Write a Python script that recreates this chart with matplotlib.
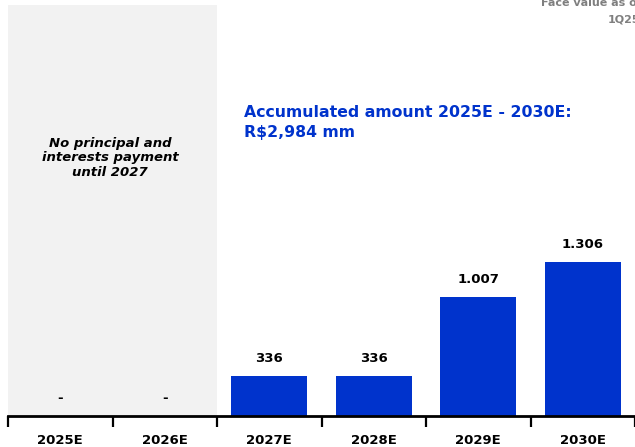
import matplotlib.pyplot as plt
from matplotlib.ticker import FixedLocator

# Données
annees = ["2025E", "2026E", "2027E", "2028E", "2029E", "2030E"]
valeurs = [0, 0, 336, 336, 1007, 1306]
etiquettes = ["-", "-", "336", "336", "1.007", "1.306"]
titre = "Accumulated amount 2025E - 2030E:\nR$2,984 mm"
note = "No principal and\ninterests payment\nuntil 2027"

BLEU = "#0033CC"
GRIS = "#F2F2F2"
W, H = 635, 447

fig = plt.figure(figsize=(W / 100, H / 100), dpi=100)
ax = fig.add_axes([8 / W, 1 - 416 / H, (W - 8) / W, (416 - 5) / H])

x = list(range(len(annees)))

# Zone sans paiement
ax.axvspan(-0.5, 1.5, color=GRIS, zorder=0, lw=0)

ax.bar(x, valeurs, width=0.73, color=BLEU, zorder=2)

# Etiquettes des barres
for xi, v, lab in zip(x, valeurs, etiquettes):
    ax.text(xi, v + 150, lab, ha="center", va="center", fontsize=9.5,
            fontweight="bold", color="black", zorder=3)

ax.set_xlim(-0.5, 5.5)
ax.set_ylim(0, 3486)

# Axe du bas
for s in ["top", "right", "left"]:
    ax.spines[s].set_visible(False)
ax.spines["bottom"].set_linewidth(2)
ax.set_yticks([])
ax.set_xticks(x)
ax.set_xticklabels(annees, fontsize=9.5, fontweight="bold")
ax.tick_params(axis="x", which="major", length=0, pad=13)
ax.xaxis.set_minor_locator(FixedLocator([i - 0.5 for i in range(len(annees) + 1)]))
ax.tick_params(axis="x", which="minor", length=8, width=1.6, color="black")

# Textes (la note grise est coupée au bord, comme dans l'original)
fig.text(244 / W, 1 - 105 / H, titre, ha="left", va="top", fontsize=11.3,
         fontweight="bold", color=BLEU, linespacing=1.4)
fig.text(110 / W, 1 - 158 / H, note, ha="center", va="center", fontsize=9.5,
         fontweight="bold", fontstyle="italic", color="black", linespacing=1.2)
fig.text(541 / W, 1 - 3 / H, "Face value as of", ha="left", va="center",
         fontsize=8, fontweight="bold", color="#7F7F7F")
fig.text(608 / W, 1 - 19 / H, "1Q25", ha="left", va="center",
         fontsize=8, fontweight="bold", color="#7F7F7F")

fig.savefig("out.png", dpi=100)
